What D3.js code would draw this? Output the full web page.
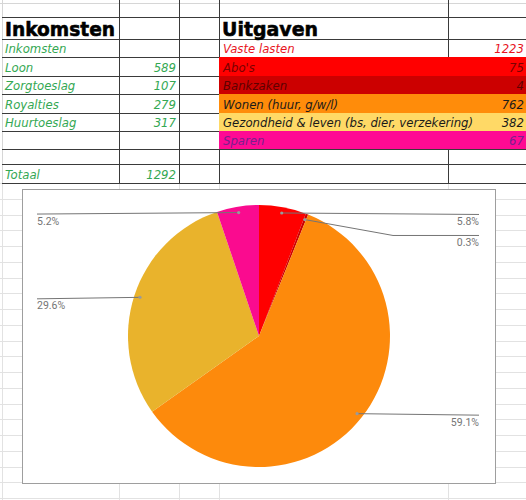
<!DOCTYPE html>
<html>
<head>
<meta charset="utf-8">
<script src="https://cdn.jsdelivr.net/npm/d3@7"></script>
<style>
  html, body { margin: 0; padding: 0; background: #fff; overflow: hidden; }
  svg { display: block; }
</style>
</head>
<body>
<div id="sheet"></div>
<script>
const width = 526;
const height = 500;

// income table
const incomeLabels = ["Loon", "Zorgtoeslag", "Royalties", "Huurtoeslag"];
const incomeValues = [589, 107, 279, 317];
const incomeTotal = 1292;

// expenses table + pie
const expenseLabels = ["Abo's", "Bankzaken", "Wonen (huur, g/w/l)", "Gezondheid & leven (bs, dier, verzekering)", "Sparen"];
const expenseValues = [75, 4, 762, 382, 67];
const fixedCosts = 1223;
const expenseColors = ["#ff0000", "#cc0000", "#ff8c0a", "#ffd966", "#ff0a93"];
const expenseText = ["#7a0000", "#5e0000", "#1a1a1a", "#1a1a1a", "#7b1f8e"];
const pieColors = ["#ff0000", "#cc0000", "#fd8a0c", "#e9b32c", "#fa0b8f"];

const hand = "'Liberation Sans Narrow', 'DejaVu Sans Condensed', sans-serif";
const green = "#34a853";

const svg = d3.select("#sheet")
  .append("svg")
  .attr("width", width)
  .attr("height", height);

// ---- spreadsheet grid ----
const colX = [2, 119, 179, 219, 448];
const rowY = [17, 39, 57, 76, 94, 113, 131, 149, 164, 183];

const grid = svg.append("g").attr("class", "grid");

// light rows under the table
const lightRows = d3.range(183, height + 16, 15.75);
grid.selectAll("line.lrow")
  .data(lightRows)
  .join("line")
    .attr("class", "lrow")
    .attr("x1", 0).attr("x2", width)
    .attr("y1", d => Math.round(d) + 0.5).attr("y2", d => Math.round(d) + 0.5)
    .attr("stroke", "#e2e2e2");

grid.selectAll("line.lcol")
  .data(colX)
  .join("line")
    .attr("class", "lcol")
    .attr("x1", d => d + 0.5).attr("x2", d => d + 0.5)
    .attr("y1", 183).attr("y2", height)
    .attr("stroke", "#e2e2e2");

grid.append("line")
  .attr("x1", 0).attr("x2", width).attr("y1", 3.5).attr("y2", 3.5)
  .attr("stroke", "#d6d6d6");
grid.append("line")
  .attr("x1", 2.5).attr("x2", 2.5).attr("y1", 0).attr("y2", 183)
  .attr("stroke", "#d6d6d6");

// coloured expense cells (rows 3..7, columns D & E)
const cells = svg.append("g");
expenseLabels.forEach((lab, i) => {
  cells.append("rect")
    .attr("x", colX[3]).attr("y", rowY[i + 2])
    .attr("width", width - colX[3]).attr("height", rowY[i + 3] - rowY[i + 2])
    .attr("fill", expenseColors[i]);
});

// dark table borders
grid.selectAll("line.drow")
  .data(rowY)
  .join("line")
    .attr("class", "drow")
    .attr("x1", 2).attr("x2", width)
    .attr("y1", d => d + 0.5).attr("y2", d => d + 0.5)
    .attr("stroke", "#3a3a3a");

grid.selectAll("line.dcol")
  .data(colX.slice(1))
  .join("line")
    .attr("class", "dcol")
    .attr("x1", d => d + 0.5).attr("x2", d => d + 0.5)
    .attr("y1", 0).attr("y2", 183)
    .attr("stroke", "#3a3a3a");

// ---- table text ----
const txt = svg.append("g");

txt.append("text")
  .attr("x", 5).attr("y", 36)
  .attr("font-family", "'DejaVu Sans', sans-serif")
  .attr("font-weight", "bold")
  .attr("font-size", 20)
  .attr("stroke", "#000").attr("stroke-width", 0.6)
  .attr("textLength", 110)
  .attr("lengthAdjust", "spacingAndGlyphs")
  .text("Inkomsten");

txt.append("text")
  .attr("x", 222).attr("y", 36)
  .attr("font-family", "'DejaVu Sans', sans-serif")
  .attr("font-weight", "bold")
  .attr("font-size", 20)
  .attr("stroke", "#000").attr("stroke-width", 0.6)
  .attr("textLength", 96)
  .attr("lengthAdjust", "spacingAndGlyphs")
  .text("Uitgaven");

function cellText(x, y, s, color, anchor) {
  return txt.append("text")
    .attr("x", x).attr("y", y)
    .attr("font-family", hand)
    .attr("font-style", "italic")
    .attr("font-size", 13)
    .attr("fill", color)
    .attr("text-anchor", anchor || "start")
    .text(s);
}

cellText(5, rowY[2] - 4, "Inkomsten", green);
incomeLabels.forEach((lab, i) => {
  cellText(5, rowY[i + 3] - 4, lab, green);
  cellText(176, rowY[i + 3] - 4, incomeValues[i], green, "end");
});
cellText(5, rowY[9] - 4, "Totaal", green);
cellText(176, rowY[9] - 4, incomeTotal, green, "end");

cellText(223, rowY[2] - 4, "Vaste lasten", "#e8141e");
cellText(524, rowY[2] - 4, fixedCosts, "#e8141e", "end");
expenseLabels.forEach((lab, i) => {
  cellText(223, rowY[i + 3] - 4, lab, expenseText[i]);
  cellText(524, rowY[i + 3] - 4, expenseValues[i], expenseText[i], "end");
});

// ---- pie chart ----
const box = { x: 22, y: 189, w: 473, h: 294 };
const chart = svg.append("g");

chart.append("rect")
  .attr("x", box.x + 0.5).attr("y", box.y + 0.5)
  .attr("width", box.w).attr("height", box.h)
  .attr("fill", "#fff")
  .attr("stroke", "#9e9e9e");

const cx = 259, cy = 336, r = 131;
const total = d3.sum(expenseValues);
const pct = d3.format(".1%");

const pie = d3.pie().sort(null).value(d => d);
const arcs = pie(expenseValues);
const arc = d3.arc().innerRadius(0).outerRadius(r);

const pieG = chart.append("g").attr("transform", `translate(${cx},${cy})`);
pieG.selectAll("path")
  .data(arcs)
  .join("path")
    .attr("d", arc)
    .attr("fill", (d, i) => pieColors[i]);

// leader lines + labels
const anchorArc = d3.arc().innerRadius(r * 0.955).outerRadius(r * 0.955);
const labels = arcs.map((d, i) => {
  const [ax, ay] = anchorArc.centroid(d);
  return { i, x: cx + ax, y: cy + ay, right: ax > 0, text: pct(d.data / total) };
});

// push overlapping labels down on each side
[true, false].forEach(side => {
  const list = labels.filter(l => l.right === side).sort((a, b) => a.y - b.y);
  let last = -Infinity;
  list.forEach(l => {
    l.ly = Math.max(l.y + 1.5, last + 21);
    last = l.ly;
  });
});

const lineX = { right: 479, left: 37 };
const lab = chart.append("g");
labels.forEach(l => {
  const endX = l.right ? lineX.right : lineX.left;
  const elbowX = l.right ? cx + r + 3 : cx - r - 3;
  const pts = Math.abs(l.ly - l.y) > 3
    ? [[l.x, l.y], [elbowX, l.ly], [endX, l.ly]]
    : [[l.x, l.y], [endX, l.ly]];
  lab.append("path")
    .attr("d", d3.line()(pts))
    .attr("fill", "none")
    .attr("stroke", "#757575")
    .attr("stroke-width", 1);
  lab.append("circle")
    .attr("cx", l.x).attr("cy", l.y).attr("r", 1.6)
    .attr("fill", "#9a9a9a");
  lab.append("text")
    .attr("x", endX).attr("y", l.ly + 10.5)
    .attr("text-anchor", l.right ? "end" : "start")
    .attr("font-family", "Roboto, sans-serif")
    .attr("font-size", 10.5)
    .attr("fill", "#757575")
    .text(l.text);
});
</script>
</body>
</html>
